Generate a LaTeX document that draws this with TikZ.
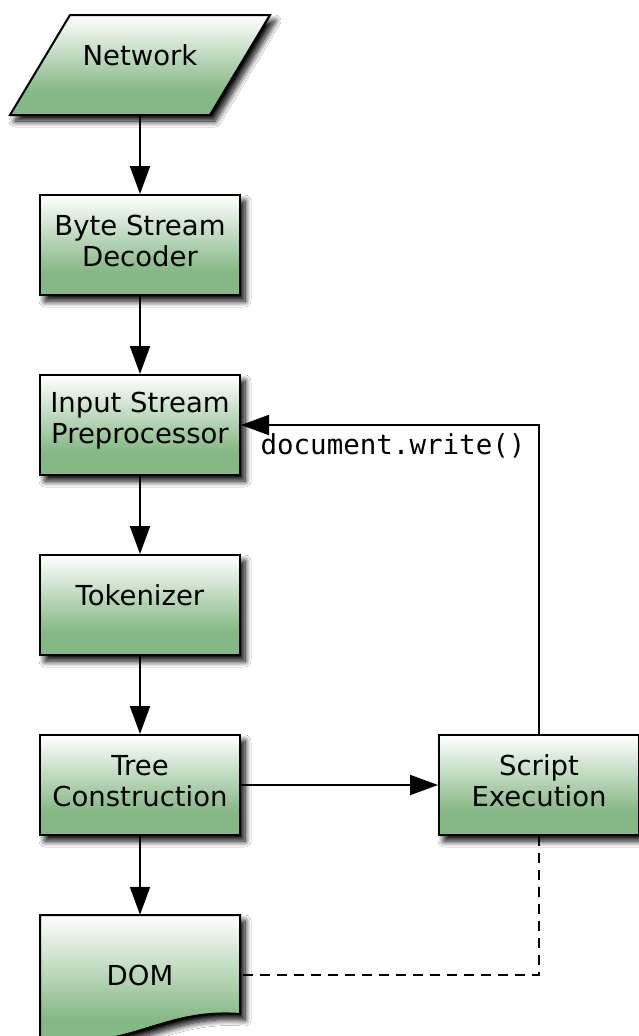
\documentclass[tikz,border=0pt]{standalone}
\usepackage{fontspec}
\setmainfont{DejaVu Sans}
\newfontfamily\monofont{DejaVu Sans Mono}
\usetikzlibrary{arrows.meta,shadows.blur}
\definecolor{gcol}{RGB}{134,184,134}
\pgfdeclareverticalshading{boxshade}{100bp}{color(0bp)=(gcol); color(37bp)=(gcol); color(75bp)=(white); color(100bp)=(white)}
\begin{document}
\begin{tikzpicture}[x=1pt,y=-1pt,
  fill shape/.style={shading=boxshade, draw=black, line width=2pt,
    blur shadow={shadow xshift=5pt, shadow yshift=-6pt, shadow blur radius=6pt, shadow blur steps=12, shadow opacity=100}},
  box/.style={fill shape, rectangle, minimum width=200pt, minimum height=100pt, inner sep=0pt},
  anchor box/.style={rectangle, minimum width=200pt, inner sep=0pt},
  lbl/.style={font=\fontsize{27.5}{31}\selectfont, align=center, inner sep=0pt},
  mlbl/.style={font=\monofont\fontsize{27.5}{31}\selectfont, inner sep=0pt},
  flow/.style={line width=2pt, -{Triangle[length=28pt,width=20pt,fill=black]}},
  dash line/.style={line width=2pt, dash pattern=on 10pt off 7pt}]
\useasboundingbox (0,0) rectangle (639,1036);
\fill[white] (0,0) rectangle (639,1036);
% Network
\path[fill shape] (70,15) -- (270,15) -- (210,115) -- (10,115) -- cycle;
\node[anchor box, minimum height=100pt] (net) at (140,65) {};
\node[lbl] (netl) at (140,55) {Network};
% boxes
\node[box] (bsd) at (140,245) {};
\node[lbl] (bsdl) at (140,241) {Byte Stream\\Decoder};
\node[box] (isp) at (140,425) {};
\node[lbl] (ispl) at (140,421) {Input Stream\\Preprocessor};
\node[box] (tok) at (140,605) {};
\node[lbl] (tokl) at (140,595) {Tokenizer};
\node[box] (tc) at (140,785) {};
\node[lbl] (tcl) at (140,781) {Tree\\Construction};
\node[box] (se) at (539,785) {};
\node[lbl] (sel) at (539,781) {Script\\Execution};
% DOM
\path[fill shape] (40,915) -- (240,915) -- (240,1014) .. controls (160,1008) and (130,1052) .. (40,1040) -- cycle;
\node[anchor box, minimum height=120pt] (dom) at (140,975) {};
\node[lbl] (doml) at (140,975) {DOM};
% connectors
\draw[flow] (net.south) -- (bsd.north);
\draw[flow] (bsd.south) -- (isp.north);
\draw[flow] (isp.south) -- (tok.north);
\draw[flow] (tok.south) -- (tc.north);
\draw[flow] (tc.south) -- (dom.north);
\draw[flow] (tc.east) -- (se.west);
\draw[flow] (se.north) |- (isp.east);
\node[mlbl] (dw) at (393,446) {document.write()};
\draw[dash line] (se.south) |- (dom.east);
\end{tikzpicture}
\end{document}
